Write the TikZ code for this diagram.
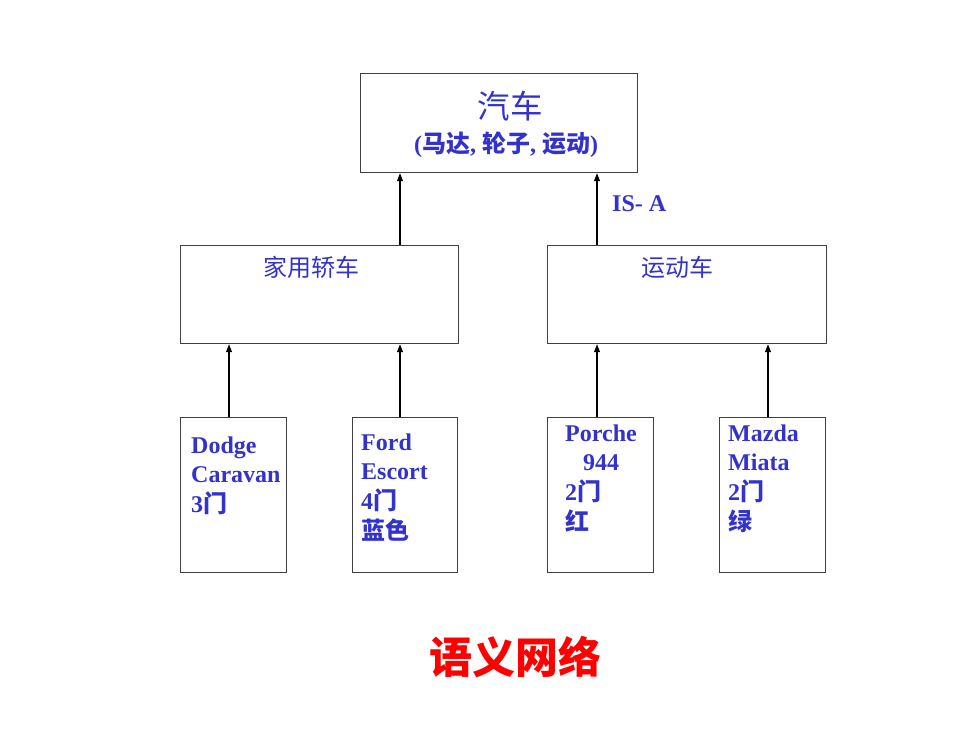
\documentclass[tikz,border=0pt]{standalone}
\usepackage{fontspec}
\setmainfont{Liberation Serif}
\newfontfamily\cjk{Noto Sans CJK SC}
\usetikzlibrary{arrows.meta}
\definecolor{txtblue}{HTML}{3333CC}
\definecolor{boxgray}{HTML}{404040}
\definecolor{titlered}{HTML}{FF0000}
\newcommand{\zh}[1]{{\cjk #1}}
\newcommand{\topline}{\rule{0pt}{18pt}}
\begin{document}
\begin{tikzpicture}[x=1pt,y=-1pt,
  box/.style={draw=boxgray,line width=1.2pt,rectangle,inner sep=0pt,anchor=north west},
  arr/.style={line width=1.1pt,-{Triangle[length=8pt,width=6pt]}},
  lbl/.style={text=txtblue,inner sep=0pt,font=\fontsize{24}{29.7}\selectfont\bfseries},
  hdr/.style={text=txtblue,inner sep=0pt,font=\fontsize{24}{29}\selectfont}]
\useasboundingbox[fill=white] (0,0) rectangle (980,735);
% boxes
\node[box,minimum width=277pt,minimum height=99pt] (car) at (360,73) {};
\node[box,minimum width=278pt,minimum height=98pt] (family) at (180,245) {};
\node[box,minimum width=279pt,minimum height=98pt] (sport) at (547,245) {};
\node[box,minimum width=106pt,minimum height=155pt] (dodge) at (180,417) {};
\node[box,minimum width=105pt,minimum height=155pt] (ford) at (352,417) {};
\node[box,minimum width=106pt,minimum height=155pt] (porche) at (547,417) {};
\node[box,minimum width=106pt,minimum height=155pt] (mazda) at (719,417) {};
% texts
\node[hdr,font=\fontsize{32.5}{32}\selectfont\cjk] (cartitle) at (510,106) {汽车};
\node[lbl] (carattr) at (506,145) {(\zh{\bfseries 马达}, \zh{\bfseries 轮子}, \zh{\bfseries 运动})};
\node[hdr,font=\fontsize{24}{29}\selectfont\cjk] (familyt) at (311,267) {家用轿车};
\node[hdr,font=\fontsize{24}{29}\selectfont\cjk] (sportt) at (677,267) {运动车};
\node[lbl,anchor=north west,align=left] (dodget) at (191,435) {\topline Dodge\\Caravan\\3\zh{\bfseries 门}};
\node[lbl,anchor=north west,align=left] (fordt) at (361,432) {\topline Ford\\Escort\\4\zh{\bfseries 门}\\\zh{\bfseries 蓝色}};
\node[lbl,anchor=north west,align=left] (porchet) at (565,423) {\topline Porche\\\hspace*{0.75em}944\\2\zh{\bfseries 门}\\\zh{\bfseries 红}};
\node[lbl,anchor=north west,align=left] (mazdat) at (728,423) {\topline Mazda\\Miata\\2\zh{\bfseries 门}\\\zh{\bfseries 绿}};
\node[lbl,anchor=west] (isa) at (612,204) {IS- A};
\node[text=titlered,inner sep=0pt,font=\fontsize{43}{43}\selectfont\cjk\bfseries] (title) at (515,657) {语义网络};
% connectors
\draw[arr] (family.north -| 400,0) -- (car.south -| 400,0);
\draw[arr] (sport.north -| 597,0) -- (car.south -| 597,0);
\draw[arr] (dodge.north -| 229,0) -- (family.south -| 229,0);
\draw[arr] (ford.north -| 400,0) -- (family.south -| 400,0);
\draw[arr] (porche.north -| 597,0) -- (sport.south -| 597,0);
\draw[arr] (mazda.north -| 768,0) -- (sport.south -| 768,0);
\end{tikzpicture}
\end{document}
